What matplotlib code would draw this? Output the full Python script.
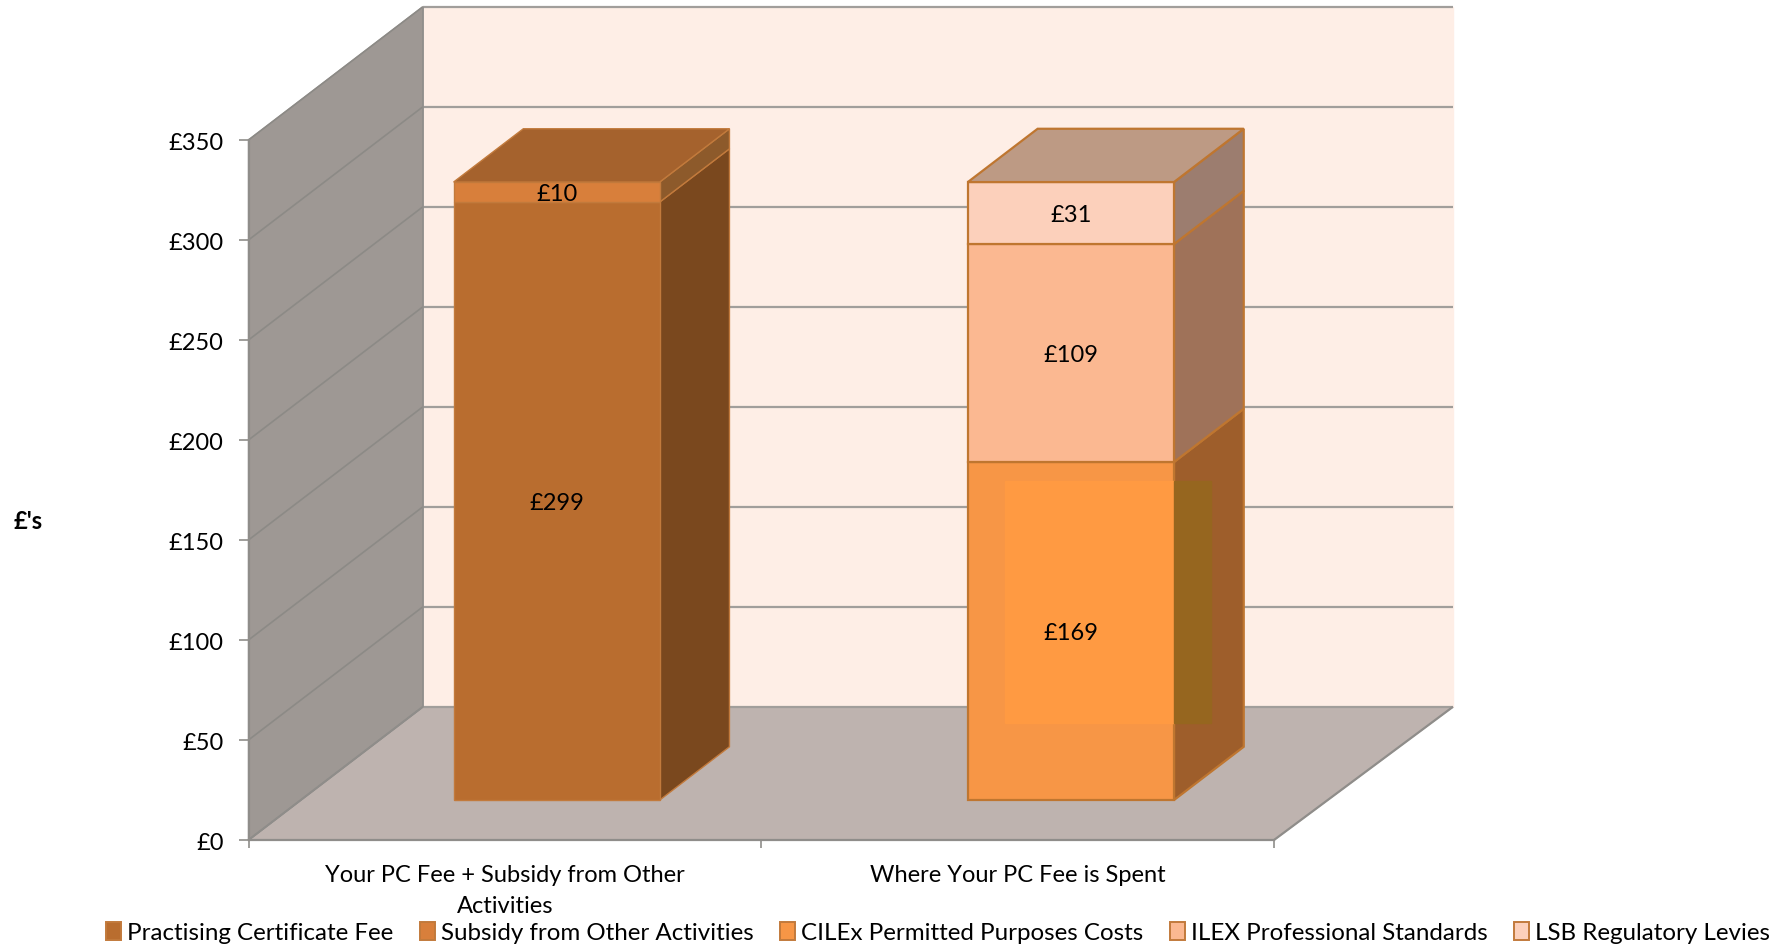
import matplotlib
matplotlib.use('Agg')
import matplotlib.pyplot as plt
from matplotlib.patches import Patch
from matplotlib.ticker import FuncFormatter
from matplotlib.transforms import ScaledTranslation

# data
categories = ['Your PC Fee + Subsidy from Other\nActivities', 'Where Your PC Fee is Spent']
left_series = ['Practising Certificate Fee', 'Subsidy from Other Activities']
left_values = [299, 10]
right_series = ['CILEx Permitted Purposes Costs', 'ILEX Professional Standards', 'LSB Regulatory Levies']
right_values = [169, 109, 31]
y_ticks = [0, 50, 100, 150, 200, 250, 300, 350]

# colours: front face, side face
left_front = ['#B96D2F', '#D87F3B']
left_side = ['#7A481E', '#8D5A2B']
left_top = '#A5622D'
right_front = ['#F79646', '#FBB891', '#FCD0BB']
right_side = ['#9E5E2B', '#9F7259', '#9C7D6F']
right_top = '#BD9A84'

W, H = 1787, 944
plt.rcParams['font.family'] = ['Lato', 'DejaVu Sans']

fig = plt.figure(figsize=(W / 100, H / 100), dpi=100)
ax = fig.add_axes([248.5 / W, 1 - 840 / H, 1025.5 / W, 700 / H])
ax.set_xlim(0, 2)
ax.set_ylim(0, 350)
ax.patch.set_alpha(0)

# depth offset of the back plane, in data units
DX = 0.34
DY = 66.6
BACK_RIGHT = 2.009


def proj(x, y, d):
    return x + DX * d, y + DY * d


def face(points, color, edge=None, lw=1.0, z=2):
    pts = [proj(*p) for p in points]
    ax.fill([p[0] for p in pts], [p[1] for p in pts], facecolor=color,
            edgecolor=edge if edge else color, linewidth=lw, clip_on=False, zorder=z)


def line3(p, q, color='#A19E9B', lw=1.6, z=2):
    a, b = proj(*p), proj(*q)
    ax.plot([a[0], b[0]], [a[1], b[1]], color=color, lw=lw, clip_on=False, zorder=z,
            solid_capstyle='butt')


# walls and floor
face([(0, 0, 1), (BACK_RIGHT, 0, 1), (BACK_RIGHT, 350, 1), (0, 350, 1)], '#FEEEE6', z=1)
face([(0, 0, 0), (2, 0, 0), (BACK_RIGHT, 0, 1), (0, 0, 1)], '#BEB3AF', z=1)
face([(0, 0, 0), (0, 0, 1), (0, 350, 1), (0, 350, 0)], '#9E9894', z=1)

# gridlines on back wall and side wall
for v in y_ticks:
    line3((0, v, 1), (BACK_RIGHT, v, 1))
    line3((0, v, 0), (0, v, 1), color='#8C8A86', lw=1.2)
line3((0, 0, 0), (0, 0, 1), color='#8F8D8A', lw=1.4)
line3((2, 0, 0), (BACK_RIGHT, 0, 1), color='#8F8D8A', lw=1.6)
line3((0, 0, 1), (0, 350, 1), color='#8F8D8A', lw=1.2)


def stacked_bar(center, values, front, side, top, edge, lw):
    x0, x1 = center - 0.201, center + 0.201
    d0, d1 = 0.3, 0.7
    base = 0
    for v, fc, sc in zip(values, front, side):
        face([(x1, base, d0), (x1, base, d1), (x1, base + v, d1), (x1, base + v, d0)], sc, edge, lw, 3)
        face([(x0, base, d0), (x1, base, d0), (x1, base + v, d0), (x0, base + v, d0)], fc, edge, lw, 3)
        ax.annotate('£%d' % v, proj(center, base + v / 2, d0), xytext=(0, -1.8), textcoords='offset points',
                    ha='center', va='center', fontsize=17, color='black', zorder=6)
        base += v
    face([(x0, base, d0), (x1, base, d0), (x1, base, d1), (x0, base, d1)], top, edge, lw, 3)


centers = [0.499, 1.502]
stacked_bar(centers[0], left_values, left_front, left_side, left_top, '#C27A3C', 1.0)
stacked_bar(centers[1], right_values, right_front, right_side, right_top, '#BF7630', 1.6)

# lighter patch seen through the lowest segment of the second bar
inner_range = [24, 145]
inner_d = 0.515
inner_x0 = centers[1] - 0.201
inner_x1 = centers[1] + 0.201
inner_mid = inner_x1 - DX * (inner_d - 0.3)
face([(inner_x0, inner_range[0], inner_d), (inner_mid, inner_range[0], inner_d),
      (inner_mid, inner_range[1], inner_d), (inner_x0, inner_range[1], inner_d)], '#FF9A42', z=4)
face([(inner_mid, inner_range[0], inner_d), (inner_x1, inner_range[0], inner_d),
      (inner_x1, inner_range[1], inner_d), (inner_mid, inner_range[1], inner_d)], '#96661F', z=4)

# axes
for s in ['top', 'right']:
    ax.spines[s].set_visible(False)
for s in ['left', 'bottom']:
    ax.spines[s].set_color('#8F8D8A')
    ax.spines[s].set_linewidth(1.6)
    ax.spines[s].set_zorder(5)
ax.set_yticks(y_ticks)
ax.yaxis.set_major_formatter(FuncFormatter(lambda v, p: '£%d' % v))
ax.tick_params(axis='y', length=7, width=1.2, color='#8F8D8A', pad=11, labelsize=17)
# move the y labels down a little
shift = ScaledTranslation(0, -1 / 72, fig.dpi_scale_trans)
for t in ax.get_yticklabels():
    t.set_transform(t.get_transform() + shift)
ax.set_xticks([0, 1, 2])
ax.set_xticklabels([])
ax.set_xticks([0.5, 1.5], minor=True)
ax.set_xticklabels(categories, minor=True, fontsize=17, linespacing=1.57)
ax.tick_params(axis='x', which='major', length=6, width=1.2, color='#8F8D8A')
ax.tick_params(axis='x', which='minor', length=0, pad=18)

ax.set_ylabel("£'s", rotation=0, fontsize=17, fontweight='bold', ha='center', va='center')
ax.yaxis.set_label_coords(-0.2144, 0.4545)

# legend
handles = [Patch(facecolor=c, edgecolor='#C27A3C', linewidth=1.4) for c in left_front + right_front]
fig.legend(handles, left_series + right_series, loc='center', ncol=5, frameon=False,
           bbox_to_anchor=(938 / W, 1 - 933 / H), fontsize=17.4, handlelength=0.62, handleheight=0.75,
           handletextpad=0.25, columnspacing=1.1, borderpad=0, borderaxespad=0)

fig.savefig('out.png', dpi=100)
